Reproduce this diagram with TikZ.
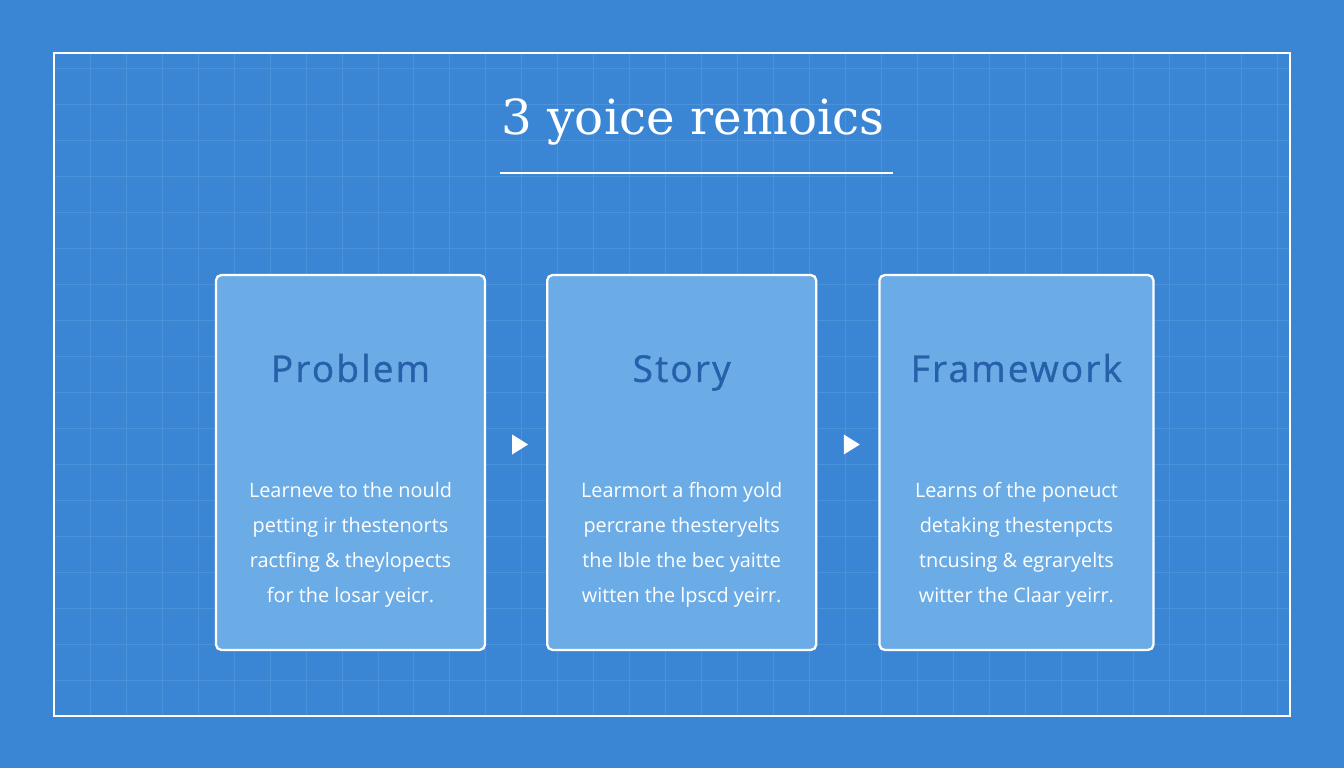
\documentclass[tikz,border=0pt]{standalone}
\usepackage{fontspec}
\setmainfont{DejaVu Serif}
\newfontfamily\cardfont{Open Sans}
\usetikzlibrary{positioning, calc}
\definecolor{bgblue}{RGB}{59,134,212}
\definecolor{cardblue}{RGB}{108,172,230}
\definecolor{headblue}{RGB}{38,96,170}
\definecolor{gridblue}{RGB}{76,146,219}

\begin{document}
\begin{tikzpicture}[x=0.02cm, y=0.02cm,
    card/.style={rectangle, draw=white, line width=1.3pt, fill=cardblue,
      rounded corners=3pt, minimum width=5.38cm, minimum height=7.5cm},
    head/.style={anchor=base,
      font=\cardfont\addfontfeature{LetterSpace=6,FakeBold=1}\fontsize{21}{25}\selectfont,
      text=headblue},
    body/.style={font=\cardfont\fontsize{11.3}{19.8}\selectfont, text=white, align=center},
    tip/.style={fill=white}]
  % background and frame
  \fill[bgblue] (0,0) rectangle (1344,768);
  \begin{scope}[shift={(54,52)}]
    \draw[gridblue, line width=0.5pt, step=0.72cm] (0,0) grid (1236,663);
  \end{scope}
  \draw[white, line width=1.5pt] (54,52) rectangle (1290,715);
  % title
  \node[font=\fontsize{27.5}{33}\selectfont, text=white] (title) at (693,646) {3 yoice remoics};
  \coordinate (ruleL) at (500,595);
  \coordinate (ruleR) at (893,595);
  \draw[white, line width=1pt] (ruleL) -- (ruleR);
  % cards
  \node[card] (problem) at (350.5,305.5) {};
  \node[card, right=1.2cm of problem] (story) {};
  \node[card, minimum width=5.48cm, right=1.22cm of story] (framework) {};
  \node[head] (problemhead) at ($(problem.north)+(0,-108)$) {Problem};
  \node[head] (storyhead) at ($(story.north)+(0,-108)$) {Story};
  \node[head] (frameworkhead) at ($(framework.north)+(0,-108)$) {Framework};
  \node[body] (problemtext) at ($(problem.north)+(0,-271)$)
    {Learneve to the nould\\petting ir thestenorts\\ractfing \& theylopects\\for the losar yeicr.};
  \node[body] (storytext) at ($(story.north)+(0,-271)$)
    {Learmort a fhom yold\\percrane thesteryelts\\the lble the bec yaitte\\witten the lpscd yeirr.};
  \node[body] (frameworktext) at ($(framework.north)+(0,-271)$)
    {Learns of the poneuct\\detaking thestenpcts\\tncusing \& egraryelts\\witter the Claar yeirr.};
  % arrow tips between the cards
  \coordinate (tipA) at ($(problem.east)!0.5!(story.west)+(3,18)$);
  \coordinate (tipB) at ($(story.east)!0.5!(framework.west)+(3,18)$);
  \fill[tip] ($(tipA)+(-7,10)$) -- ($(tipA)+(9,0)$) -- ($(tipA)+(-7,-10)$) -- cycle;
  \fill[tip] ($(tipB)+(-7,10)$) -- ($(tipB)+(9,0)$) -- ($(tipB)+(-7,-10)$) -- cycle;
\end{tikzpicture}
\end{document}
